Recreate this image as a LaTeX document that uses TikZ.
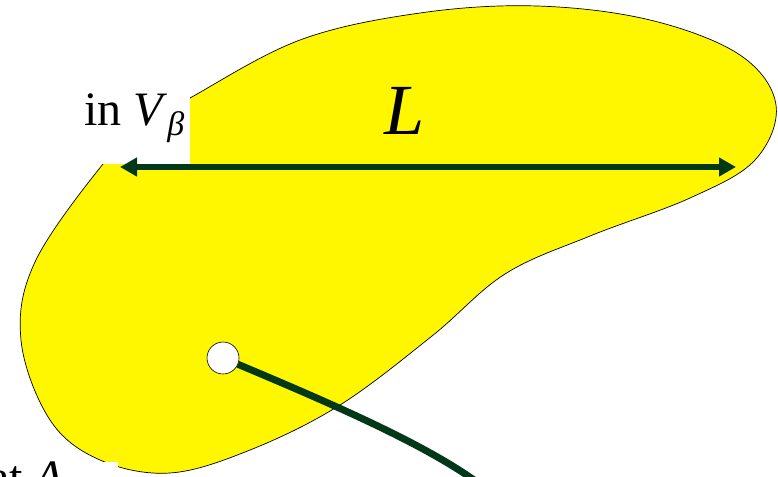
\documentclass[tikz,border=0pt]{standalone}
\usepackage{fontspec}
\setmainfont{Liberation Serif}
\usetikzlibrary{arrows.meta,positioning}
\definecolor{blobfill}{HTML}{FFF700}
\definecolor{wire}{HTML}{003818}

\begin{document}
\begin{tikzpicture}[x=1pt, y=-1pt,
      blob/.style={fill=blobfill, draw=black, line width=0.7pt},
      mask/.style={fill=white},
      lbl/.style={inner sep=0pt, anchor=base west, font=\fontsize{48}{50}\selectfont},
      spot/.style={circle, draw=black, fill=white, line width=0.6pt, minimum size=32pt, inner sep=0pt},
      arr/.style={{Triangle[length=17pt,width=18pt]}-{Triangle[length=17pt,width=18pt]}, draw=wire, line width=6pt},
      link/.style={draw=wire, line width=7pt}]
    \useasboundingbox (0,0) rectangle (778,476);
    \path[blob] plot[smooth cycle, tension=0.6] coordinates {
      (190,98) (300,40) (420,13) (537,6) (650,20) (740,55) (776,105) (755,160)
      (690,198) (590,236) (505,274) (432,336) (340,405) (250,450) (170,473)
      (100,460) (50,420) (21,340) (35,262) (103,164) (145,125)};
    \fill[mask] (60,55) rectangle (190,164);
    \fill[mask] (-5,462) rectangle (118,480);
    \node[lbl] (inv) at (84,125) {in \textit{V}\raisebox{-0.22em}{\fontsize{34}{34}\selectfont\itshape β}};
    \node[lbl] (ata) at (-12,493) {at \textit{A}};
    \node[lbl, font=\fontsize{72}{72}\selectfont] (len) at (384,135) {\textit{L}};
    \coordinate (lend) at (120,167);
    \coordinate (rend) at (736,167);
    \draw[arr] (lend) -- (rend);
    \node[spot] (pt) at (223,358) {};
    \coordinate (tail) at (474,480);
    \draw[link] (pt) .. controls (330,403) and (420,442) .. (tail);
  \end{tikzpicture}
\end{document}
